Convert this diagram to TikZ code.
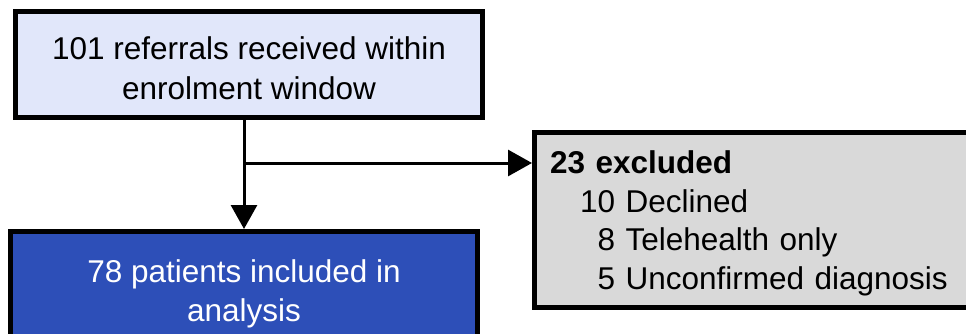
\documentclass[tikz,border=0pt]{standalone}
\usepackage{fontspec}
\setmainfont{Liberation Sans}
\usetikzlibrary{arrows.meta,shapes,positioning}
\definecolor{refblue}{RGB}{225,231,250}
\definecolor{inclblue}{RGB}{45,79,184}
\definecolor{exclgrey}{RGB}{217,217,217}
\tikzstyle{box}=[rectangle, draw
,line width=5pt
,minimum width=467pt
,inner sep=0pt
,align=center
,font=\fontsize{31.5}{38.5}\selectfont
]
\tikzstyle{edge} = [draw,line width=3pt,-{Triangle[length=24pt,width=26pt]}]

\begin{document}
\begin{tikzpicture}[x=1pt,y=-1pt]
    \useasboundingbox (0,0) rectangle (966,334);
    \clip (0,0) rectangle (966,334);
    % First we draw the boxes
    \node[box, fill=refblue, minimum height=106pt, font=\fontsize{31.5}{40}\selectfont] (refer) at (249,64.5)
        {\rule{0pt}{30pt}101 referrals received within\\enrolment window};
    \node[box, fill=inclblue, text=white, minimum height=125pt] (incl) at (244,294) {78 patients included in\\analysis};
    \node[box, fill=exclgrey, minimum height=175pt, anchor=west, align=left, text width=440pt, inner xsep=15.5pt] (excl) at (532,220)
        {\rule{0pt}{29.6pt}\textbf{23 excluded}\\
         \hspace*{30pt}10 Declined\\
         \hspace*{30pt}\phantom{1}8 Telehealth only\\
         \hspace*{30pt}\phantom{1}5 Unconfirmed diagnosis};

    % Connect boxes with arrows
    \path[edge] (refer.south -| incl.north) -- (incl.north);
    \path (refer.south -| incl.north) ++(0,43) coordinate (split);
    \path[edge] (split) -- (split -| excl.west);
\end{tikzpicture}
\end{document}
